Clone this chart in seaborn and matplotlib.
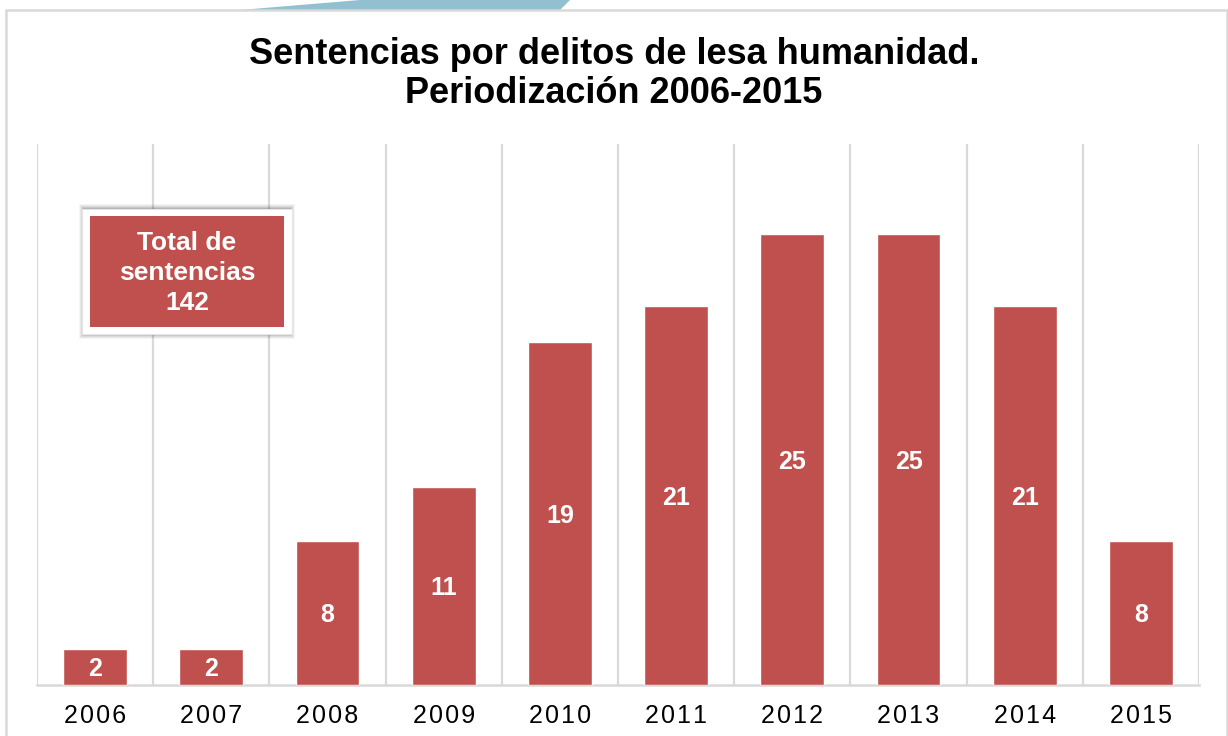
import numpy as np
import pandas as pd
import matplotlib
matplotlib.use("Agg")
import matplotlib.pyplot as plt
from matplotlib.patches import Rectangle, Polygon
import seaborn as sns

# Data
years = ["2006", "2007", "2008", "2009", "2010", "2011", "2012", "2013", "2014", "2015"]
sentencias = [2, 2, 8, 11, 19, 21, 25, 25, 21, 8]
total = 142

title = "Sentencias por delitos de lesa humanidad.\nPeriodización 2006-2015"
box_text = "Total de\nsentencias\n" + str(total)

BAR = "#c0504d"
GRID = "#d9d9d9"

sns.set_style("white")
plt.rcParams["font.family"] = ["Liberation Sans", "DejaVu Sans"]

W, H = 1228, 736
fig = plt.figure(figsize=(W / 100, H / 100), dpi=100)


def fx(px):
    return px / W


def fy(py):
    return 1 - py / H


# decorative slide shape at the top
fig.add_artist(Polygon([(fx(240), fy(10)), (fx(360), fy(0)), (fx(570), fy(0)), (fx(560), fy(10))],
                       closed=True, transform=fig.transFigure, facecolor="#93c0d0", edgecolor="none",
                       zorder=-2))
# chart frame
fig.add_artist(Rectangle((fx(6), fy(740)), fx(1221), (740 - 10.5) / H, transform=fig.transFigure,
                         facecolor="white", edgecolor=GRID, lw=1.8, zorder=-1))

ax = fig.add_axes([fx(37), fy(685), fx(1199 - 37), (685 - 144) / H])
ax.patch.set_alpha(0)

d = pd.DataFrame({"year": years, "n": sentencias})
sns.barplot(data=d, x="year", y="n", color=BAR, saturation=1, width=0.55, ax=ax, zorder=3)

ax.set_ylim(0, 30)
ax.set_xlim(-0.5, len(years) - 0.5)
ax.set_xlabel("")
ax.set_ylabel("")
ax.set_yticks([])

# vertical gridlines between categories
ax.set_xticks(np.arange(-0.5, len(years)), minor=True)
ax.grid(which="minor", axis="x", color=GRID, lw=1.6, zorder=0)
ax.tick_params(axis="x", which="both", length=0)
ax.tick_params(axis="x", which="major", pad=14)
ax.set_xticks(range(len(years)))
ax.set_xticklabels(["\u200a".join(y) for y in years], fontsize=18, color="black")

for s in ["top", "left", "right"]:
    ax.spines[s].set_visible(False)
ax.spines["bottom"].set_color(GRID)
ax.spines["bottom"].set_linewidth(1.8)

for i, v in enumerate(sentencias):
    ax.annotate(str(v), (i, v / 2), xytext=(0, -1.5), textcoords="offset points",
                ha="center", va="center", color="white",
                fontsize=18, fontweight="bold", zorder=4)

fig.text(0.5, fy(74), title, ha="center", va="center", fontsize=26, fontweight="bold",
         color="black", linespacing=1.18)

# "Total" callout box with soft shadow
for k, a in zip(range(5, 0, -1), [0.04, 0.05, 0.06, 0.08, 0.1]):
    fig.add_artist(Rectangle((fx(82 - k + 2), fy(334 + k)), fx(210 + 2 * k - 4), (125 + 2 * k) / H,
                             transform=fig.transFigure, facecolor="black", edgecolor="none", alpha=a))
fig.add_artist(Rectangle((fx(82), fy(334)), fx(210), 125 / H, transform=fig.transFigure,
                         facecolor="white", edgecolor="#e6e6e6", lw=0.8))
fig.add_artist(Rectangle((fx(90), fy(327)), fx(194), 111 / H, transform=fig.transFigure,
                         facecolor=BAR, edgecolor="none"))
fig.text(fx(187), fy(273), box_text, ha="center", va="center", color="white",
         fontsize=19, fontweight="bold", linespacing=1.3)

fig.savefig("out.png", dpi=100)
